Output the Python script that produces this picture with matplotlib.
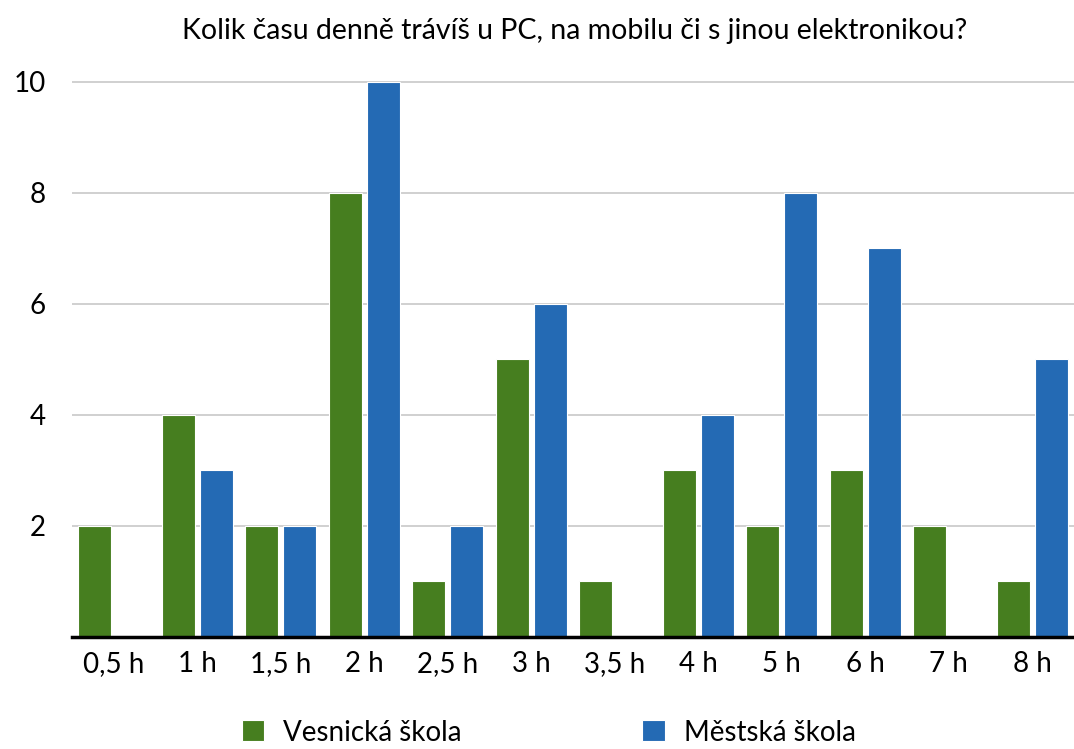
import numpy as np
import matplotlib.pyplot as plt

plt.rcParams['font.family'] = ['Lato', 'DejaVu Sans']

# data
categories = ["0,5 h", "1 h", "1,5 h", "2 h", "2,5 h", "3 h", "3,5 h", "4 h", "5 h", "6 h", "7 h", "8 h"]
vesnicka = [2, 4, 2, 8, 1, 5, 1, 3, 2, 3, 2, 1]
mestska = [0, 3, 2, 10, 2, 6, 0, 4, 8, 7, 0, 5]
yticks = [2, 4, 6, 8, 10]

green = "#467E1F"
blue = "#246AB4"

fig = plt.figure(figsize=(10.74, 7.49), dpi=100)
ax = fig.add_axes([0.067, 0.1495, 0.933, 0.7637])

x = np.arange(len(categories))
w = 0.395
off = 0.228
ax.bar(x - off, vesnicka, width=w, color=green, edgecolor="white", linewidth=0.8,
       label="Vesnická škola", zorder=3)
ax.bar(x + off, mestska, width=w, color=blue, edgecolor="white", linewidth=0.8,
       label="Městská škola", zorder=3)

ax.set_xlim(-0.5, 11.5)
ax.set_ylim(0, 10.3)
ax.set_yticks(yticks)
ax.set_xticks(x)
ax.set_xticklabels(categories)
ax.tick_params(axis="both", length=0, labelsize=20)
ax.tick_params(axis="y", pad=19)
ax.tick_params(axis="x", pad=10)
ax.grid(axis="y", color="#C8C8C8", linewidth=1.2, zorder=0)

for s in ["top", "right", "left"]:
    ax.spines[s].set_visible(False)
ax.spines["bottom"].set_linewidth(2.5)
ax.spines["bottom"].set_color("black")
ax.spines["bottom"].set_zorder(4)

fig.text(0.535, 0.958, "Kolik času denně trávíš u PC, na mobilu či s jinou elektronikou?",
         ha="center", va="center", fontsize=20.5)

fig.legend(loc="center", bbox_to_anchor=(0.511, 0.022), ncol=2, frameon=False,
           fontsize=20, handlelength=0.8, handleheight=0.8, handletextpad=0.7,
           columnspacing=6.5)

fig.savefig("out.png", dpi=100)
